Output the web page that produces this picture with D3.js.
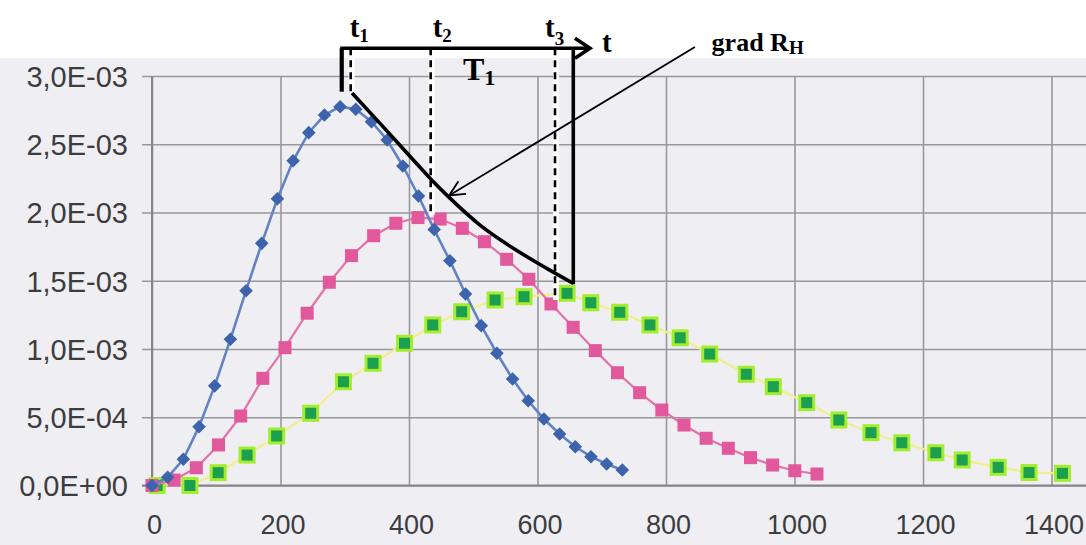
<!DOCTYPE html>
<html><head><meta charset="utf-8">
<script src="https://cdn.jsdelivr.net/npm/d3@7"></script>
<style>
html,body{margin:0;padding:0;background:#efeff3;}
svg{display:block;}
</style></head>
<body>
<svg id="chart" width="1086" height="545"></svg>
<script>
// ---------- DATA (y values in units of 1e-3) ----------
const xTicks = [0, 200, 400, 600, 800, 1000, 1200, 1400];
const xTickLabels = ["0", "200", "400", "600", "800", "1000", "1200", "1400"];
const yTicks = [0, 0.5, 1.0, 1.5, 2.0, 2.5, 3.0];
const yTickLabels = ["0,0E+00", "5,0E-04", "1,0E-03", "1,5E-03", "2,0E-03", "2,5E-03", "3,0E-03"];

const blueX = [0, 24.4, 48.8, 73.2, 97.6, 122, 146.4, 170.8, 195.2, 219.6, 244, 268.4, 292.8, 317.2, 341.6, 366,
  390.4, 414.8, 439.2, 463.6, 488, 512.4, 536.8, 561.2, 585.6, 610, 634.4, 658.8, 683.2, 707.6, 732];
const blueY = [0, 0.06, 0.192, 0.431, 0.73, 1.071, 1.427, 1.774, 2.101, 2.379, 2.585, 2.714, 2.775, 2.756, 2.665, 2.531,
  2.341, 2.121, 1.875, 1.647, 1.403, 1.171, 0.969, 0.780, 0.621, 0.487, 0.377, 0.284, 0.211, 0.158, 0.114];

const pinkX = [0, 34.5, 69, 103.5, 138, 172.5, 207, 241.5, 276, 310.5, 345, 379.5, 414, 448.5, 483, 517.5,
  552, 586.5, 621, 655.5, 690, 724.5, 759, 793.5, 828, 862.5, 897, 931.5, 966, 1000.5, 1035];
const pinkY = [0, 0.040, 0.130, 0.297, 0.509, 0.785, 1.010, 1.262, 1.489, 1.684, 1.830, 1.921, 1.963, 1.952, 1.884, 1.786,
  1.657, 1.511, 1.330, 1.159, 0.988, 0.826, 0.680, 0.553, 0.443, 0.346, 0.273, 0.204, 0.150, 0.108, 0.084];

const greenX = [8, 59, 103, 148, 194, 247, 298, 344, 393, 437, 482, 534, 579, 646, 683, 728, 775, 822, 868, 925,
  967, 1019, 1069, 1119, 1167, 1220, 1261, 1317, 1365, 1417];
const greenY = [0, 0, 0.094, 0.223, 0.363, 0.529, 0.760, 0.895, 1.042, 1.176, 1.273, 1.359, 1.383, 1.408, 1.339, 1.269,
  1.176, 1.082, 0.963, 0.815, 0.724, 0.607, 0.480, 0.387, 0.313, 0.240, 0.187, 0.133, 0.095, 0.089];

// ---------- ANNOTATION (in data units) ----------
const annX = {leftBar: 295.3, t1: 310.8, t2: 435.3, t3: 628.8, rightBar: 655.7, arrowTip: 681.7};
const annTop = 3.203, leftBarBottom = 2.885, t1Bottom = 2.87, t2Bottom = 1.982, t3Bottom = 1.359;
const curveX = [311.3, 354.9, 406.7, 435.3, 461.2, 510.5, 562.3, 614.3, 655.7];
const curveY = [2.875, 2.653, 2.385, 2.238, 2.116, 1.908, 1.738, 1.591, 1.481];
const gradArrowFrom = [845, 3.212], gradArrowTo = [462.5, 2.125];

// ---------- SCALES ----------
const svg = d3.select("#chart");
const W = 1086, H = 545;
const x = d3.scaleLinear().domain([0, 1500]).range([152, 152 + 1500 * 0.6425]);
const y = d3.scaleLinear().domain([0, 3]).range([485.5, 76]);

// background
svg.append("rect").attr("x", 0).attr("y", 0).attr("width", W).attr("height", H).attr("fill", "#efeff3");
svg.append("rect").attr("x", 0).attr("y", 0).attr("width", W).attr("height", 58).attr("fill", "#ffffff");

// grid via axes
const gridColor = "#97979c";
const yGrid = svg.append("g").attr("transform", `translate(${x(0)},0)`)
  .call(d3.axisRight(y).tickValues(yTicks).tickSize(W - x(0)).tickFormat(""));
yGrid.select(".domain").remove();
yGrid.selectAll("line").attr("stroke", gridColor).attr("stroke-width", 1.6).attr("x1", -10);

const xGrid = svg.append("g").attr("transform", `translate(0,${y(3)})`)
  .call(d3.axisBottom(x).tickValues(xTicks).tickSize(y(0) - y(3)).tickFormat(""));
xGrid.select(".domain").remove();
xGrid.selectAll("line").attr("stroke", gridColor).attr("stroke-width", 1.6);

// axis lines
svg.append("line").attr("x1", x(0)).attr("x2", x(0)).attr("y1", y(3)).attr("y2", y(0))
  .attr("stroke", "#85858a").attr("stroke-width", 2);
svg.append("line").attr("x1", x(0) - 10).attr("x2", W).attr("y1", y(0)).attr("y2", y(0))
  .attr("stroke", "#85858a").attr("stroke-width", 2);

// tick labels
const labelFont = "'Liberation Sans', Arial, sans-serif";
const yAx = svg.append("g").attr("transform", `translate(128,0)`)
  .call(d3.axisLeft(y).tickValues(yTicks).tickSize(0).tickPadding(0)
    .tickFormat((d, i) => yTickLabels[i]));
yAx.select(".domain").remove();
yAx.selectAll("text").attr("font-family", labelFont).attr("font-size", 29).attr("fill", "#3d3d40")
  .attr("dy", "0.36em").attr("text-anchor", "end");

const xAx = svg.append("g").attr("transform", `translate(2,${y(0)})`)
  .call(d3.axisBottom(x).tickValues(xTicks).tickSize(0).tickPadding(29)
    .tickFormat((d, i) => xTickLabels[i]));
xAx.select(".domain").remove();
xAx.selectAll("text").attr("font-family", labelFont).attr("font-size", 27).attr("fill", "#3d3d40");

// ---------- SERIES ----------
function series(xs, ys) { return xs.map((v, i) => ({x: v, y: ys[i]})); }
const blue = series(blueX, blueY), pink = series(pinkX, pinkY), green = series(greenX, greenY);
const line = d3.line().x(d => x(d.x)).y(d => y(d.y));

// green (yellow line, lime-bordered squares)
svg.append("path").datum(green).attr("d", line).attr("fill", "none")
  .attr("stroke", "#f2ef8a").attr("stroke-width", 2.2);
svg.selectAll(".gOuter").data(green).join("rect")
  .attr("x", d => x(d.x) - 8.5).attr("y", d => y(d.y) - 8.5).attr("width", 17).attr("height", 17)
  .attr("fill", "#a3ec2e");
svg.selectAll(".gInner").data(green).join("rect")
  .attr("x", d => x(d.x) - 5.5).attr("y", d => y(d.y) - 5.5).attr("width", 11).attr("height", 11)
  .attr("fill", "#1c9f4e");

// pink
svg.append("path").datum(pink).attr("d", line).attr("fill", "none")
  .attr("stroke", "#e472a8").attr("stroke-width", 2.2);
svg.selectAll(".pk").data(pink).join("rect")
  .attr("x", d => x(d.x) - 6.5).attr("y", d => y(d.y) - 6.5).attr("width", 13).attr("height", 13)
  .attr("fill", "#e2589c");

// blue
svg.append("path").datum(blue).attr("d", line).attr("fill", "none")
  .attr("stroke", "#6283c2").attr("stroke-width", 2.6);
svg.selectAll(".bl").data(blue).join("rect")
  .attr("x", -4.8).attr("y", -4.8).attr("width", 9.6).attr("height", 9.6)
  .attr("transform", d => `translate(${x(d.x)},${y(d.y)}) rotate(45)`)
  .attr("fill", "#3c63ac");

// ---------- ANNOTATION ----------
const A = svg.append("g");
function dashed(xv, y1v, y2v) {
  A.append("line").attr("x1", x(xv)).attr("x2", x(xv)).attr("y1", y(y1v)).attr("y2", y(y2v))
    .attr("stroke", "#ffffff").attr("stroke-width", 6);
  A.append("line").attr("x1", x(xv) - 1).attr("x2", x(xv) - 1).attr("y1", y(y1v)).attr("y2", y(y2v))
    .attr("stroke", "#000").attr("stroke-width", 2.6).attr("stroke-dasharray", "7,5");
}
dashed(annX.t1, annTop, t1Bottom);
dashed(annX.t2, annTop, t2Bottom);
dashed(annX.t3, annTop, t3Bottom);

const thick = 3.6;
// top time axis
A.append("line").attr("x1", x(annX.leftBar) - 1.5).attr("x2", x(annX.arrowTip)).attr("y1", y(annTop)).attr("y2", y(annTop))
  .attr("stroke", "#000").attr("stroke-width", thick);
A.append("path").attr("d", `M${x(annX.arrowTip) - 15},${y(annTop) - 10} L${x(annX.arrowTip)},${y(annTop)} L${x(annX.arrowTip) - 15},${y(annTop) + 10}`)
  .attr("fill", "none").attr("stroke", "#000").attr("stroke-width", thick);
// left bar
A.append("line").attr("x1", x(annX.leftBar)).attr("x2", x(annX.leftBar)).attr("y1", y(annTop)).attr("y2", y(leftBarBottom))
  .attr("stroke", "#000").attr("stroke-width", 4.2);
// right bar
A.append("line").attr("x1", x(annX.rightBar)).attr("x2", x(annX.rightBar)).attr("y1", y(annTop)).attr("y2", y(curveY[curveY.length - 1]) + 1)
  .attr("stroke", "#000").attr("stroke-width", thick);
// curve
A.append("path").datum(curveX.map((v, i) => [x(v), y(curveY[i])]))
  .attr("d", d3.line().curve(d3.curveMonotoneX))
  .attr("fill", "none").attr("stroke", "#000").attr("stroke-width", thick);

// grad arrow
const ax1 = x(gradArrowFrom[0]), ay1 = y(gradArrowFrom[1]), ax2 = x(gradArrowTo[0]), ay2 = y(gradArrowTo[1]);
A.append("line").attr("x1", ax1).attr("y1", ay1).attr("x2", ax2).attr("y2", ay2).attr("stroke", "#000").attr("stroke-width", 1.8);
const ang = Math.atan2(ay1 - ay2, ax1 - ax2);
const bl = 17, spread = 0.45;
A.append("path").attr("d", `M${ax2 + bl * Math.cos(ang - spread)},${ay2 + bl * Math.sin(ang - spread)} L${ax2},${ay2} L${ax2 + bl * Math.cos(ang + spread)},${ay2 + bl * Math.sin(ang + spread)}`)
  .attr("fill", "none").attr("stroke", "#000").attr("stroke-width", 1.8);

// labels
const serif = "'Liberation Serif', 'Times New Roman', serif";
function subLabel(px, py, main, sub, size, subSize, subDy) {
  const t = A.append("text").attr("x", px).attr("y", py).attr("font-family", serif).attr("font-weight", "bold")
    .attr("font-size", size).attr("fill", "#000");
  t.append("tspan").text(main);
  t.append("tspan").attr("font-size", subSize).attr("dy", subDy).text(sub);
}
subLabel(x(annX.t1) - 2, 37, "t", "1", 29, 19, 5);
subLabel(x(annX.t2) + 1, 37, "t", "2", 29, 19, 5);
subLabel(x(annX.t3) - 11, 37, "t", "3", 29, 19, 8);
A.append("text").attr("x", x(annX.arrowTip) + 12).attr("y", 52).attr("font-family", serif).attr("font-weight", "bold")
  .attr("font-size", 29).text("t");
subLabel(x(484), 80, "T", "1", 32, 22, 5);
subLabel(x(871), 51, "grad R", "H", 26, 19, 3);
</script>
</body></html>
